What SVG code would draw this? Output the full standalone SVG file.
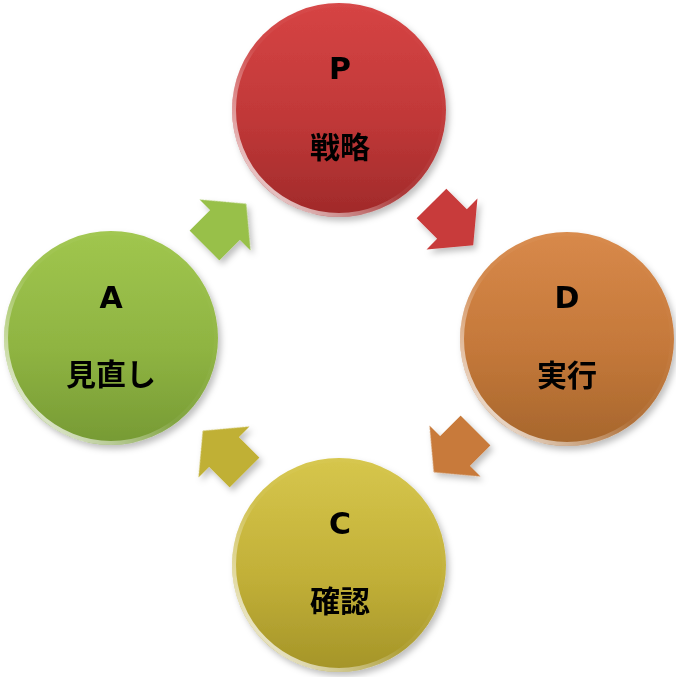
<svg xmlns="http://www.w3.org/2000/svg" width="676" height="677" viewBox="0 0 676 677">
<style>
.let{font-family:"DejaVu Sans","Liberation Sans",sans-serif;font-weight:bold;font-size:30px;fill:#000;text-anchor:middle}
.jp{font-family:"Noto Sans CJK JP","Noto Sans CJK SC",sans-serif;font-weight:bold;font-size:30px;fill:#000;text-anchor:middle}
.rim{fill:none;stroke:url(#rimG);stroke-width:4}
</style>
<defs>
<filter id="sh" x="-20%" y="-20%" width="150%" height="150%">
<feDropShadow dx="3" dy="4" stdDeviation="3" flood-color="#000" flood-opacity="0.25"/>
</filter>
<linearGradient id="gP" x1="0" y1="0" x2="0" y2="1"><stop offset="0" stop-color="#d64444"/><stop offset="0.55" stop-color="#c03838"/><stop offset="1" stop-color="#a02a2a"/></linearGradient>
<linearGradient id="gD" x1="0" y1="0" x2="0" y2="1"><stop offset="0" stop-color="#d8894a"/><stop offset="0.55" stop-color="#c4783a"/><stop offset="1" stop-color="#a6662c"/></linearGradient>
<linearGradient id="gC" x1="0" y1="0" x2="0" y2="1"><stop offset="0" stop-color="#d6c64c"/><stop offset="0.55" stop-color="#c2b038"/><stop offset="1" stop-color="#a49428"/></linearGradient>
<linearGradient id="gA" x1="0" y1="0" x2="0" y2="1"><stop offset="0" stop-color="#a0c64e"/><stop offset="0.55" stop-color="#8fb442"/><stop offset="1" stop-color="#769a34"/></linearGradient>
<linearGradient id="rimG" x1="1" y1="0" x2="0" y2="1"><stop offset="0" stop-color="#fff" stop-opacity="0"/><stop offset="0.55" stop-color="#fff" stop-opacity="0.05"/><stop offset="0.85" stop-color="#fff" stop-opacity="0.7"/><stop offset="1" stop-color="#fff" stop-opacity="0.25"/></linearGradient>
<path id="arr" d="M-29,-21 L0,-21 L0,-36 L30,0 L0,36 L0,21 L-29,21 Z"/>
</defs>
<g id="connectors" filter="url(#sh)">
<use href="#arr" fill="#c83a3a" transform="translate(452,224) rotate(45)"/>
<use href="#arr" fill="#c87a3a" transform="translate(455,451) rotate(135)"/>
<use href="#arr" fill="#c0b034" transform="translate(224,452) rotate(-135)"/>
<use href="#arr" fill="#98c04a" transform="translate(225,225) rotate(-45)"/>
</g>
<g id="nodeP">
<circle cx="339" cy="110" r="107" fill="url(#gP)" filter="url(#sh)"/>
<circle class="rim" cx="339" cy="110" r="105"/>
<text class="let" x="340" y="79">P</text>
<text class="jp" x="340" y="158">戦略</text>
</g>
<g id="nodeD">
<circle cx="567" cy="339" r="107" fill="url(#gD)" filter="url(#sh)"/>
<circle class="rim" cx="567" cy="339" r="105"/>
<text class="let" x="567" y="308">D</text>
<text class="jp" x="567" y="386">実行</text>
</g>
<g id="nodeC">
<circle cx="339" cy="565" r="107" fill="url(#gC)" filter="url(#sh)"/>
<circle class="rim" cx="339" cy="565" r="105"/>
<text class="let" x="340" y="534">C</text>
<text class="jp" x="340" y="612">確認</text>
</g>
<g id="nodeA">
<circle cx="111" cy="338" r="107" fill="url(#gA)" filter="url(#sh)"/>
<circle class="rim" cx="111" cy="338" r="105"/>
<text class="let" x="111" y="308">A</text>
<text class="jp" x="111" y="385">見直し</text>
</g>
</svg>
